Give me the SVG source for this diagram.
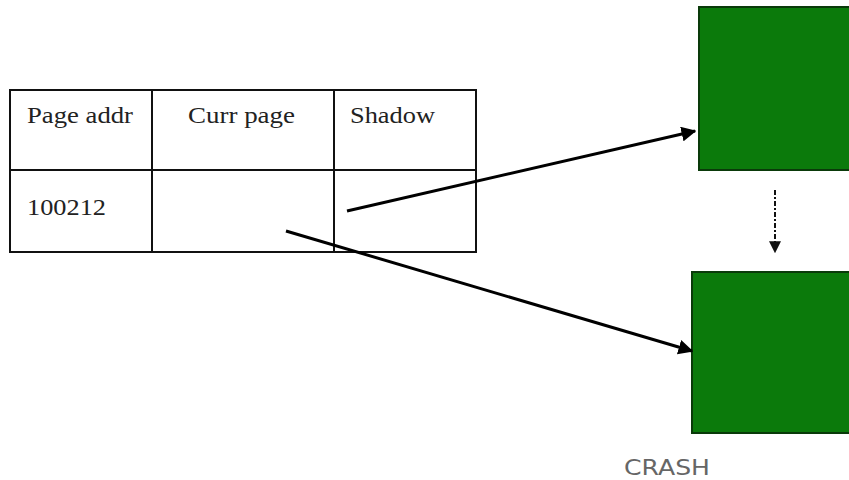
<svg xmlns="http://www.w3.org/2000/svg" width="849" height="480" viewBox="0 0 849 480">
  <style>
    .cell { fill: none; stroke: #111; stroke-width: 2; }
    .tt { font-family: "Liberation Serif", "Times New Roman", serif; font-size: 23px; fill: #222; }
    .page { fill: #0b7a0b; stroke: #0a3a0a; stroke-width: 2; }
    .conn { stroke: #000; stroke-width: 3; fill: none; }
    .dash { stroke: #111; stroke-width: 2; stroke-dasharray: 5 2 2 2; fill: none; }
    .lbl { font-family: "DejaVu Sans", "Liberation Sans", sans-serif; font-size: 21px; fill: #666; }
  </style>
  <defs>
    <marker id="head" viewBox="0 0 10 10" refX="9" refY="5" markerWidth="5" markerHeight="5" orient="auto" markerUnits="strokeWidth">
      <path d="M0,0 L10,5 L0,10 Z" fill="#000"/>
    </marker>
    <marker id="headSmall" viewBox="0 0 10 10" refX="9" refY="5" markerWidth="6" markerHeight="6" orient="auto" markerUnits="strokeWidth">
      <path d="M0,0 L10,5 L0,10 Z" fill="#111"/>
    </marker>
  </defs>
  <rect width="849" height="480" fill="#fff"/>

  <!-- page table -->
  <g id="table">
    <rect class="cell" x="10" y="90" width="466" height="162"/>
    <line class="cell" x1="152" y1="90" x2="152" y2="252"/>
    <line class="cell" x1="334" y1="90" x2="334" y2="252"/>
    <line class="cell" x1="10" y1="170" x2="476" y2="170"/>
    <text class="tt" x="27" y="123" textLength="106" lengthAdjust="spacingAndGlyphs">Page addr</text>
    <text class="tt" x="188" y="123" textLength="107" lengthAdjust="spacingAndGlyphs">Curr page</text>
    <text class="tt" x="350" y="123" textLength="85" lengthAdjust="spacingAndGlyphs">Shadow</text>
    <text class="tt" x="27" y="215" textLength="79" lengthAdjust="spacingAndGlyphs">100212</text>
  </g>

  <!-- shadow page -->
  <g id="shadow-page">
    <rect class="page" x="699" y="7" width="160" height="163"/>
  </g>

  <!-- current page -->
  <g id="curr-page">
    <rect class="page" x="692" y="272" width="167" height="161"/>
  </g>

  <g id="crash-label">
    <text class="lbl" x="624" y="475" textLength="86" lengthAdjust="spacingAndGlyphs">CRASH</text>
  </g>

  <!-- pointers -->
  <g id="connectors">
    <line class="conn" x1="347" y1="211" x2="695" y2="131" marker-end="url(#head)"/>
    <line class="conn" x1="286" y1="231" x2="692" y2="351" marker-end="url(#head)"/>
    <path class="dash" d="M775,190 L775,252" marker-end="url(#headSmall)"/>
  </g>
</svg>
